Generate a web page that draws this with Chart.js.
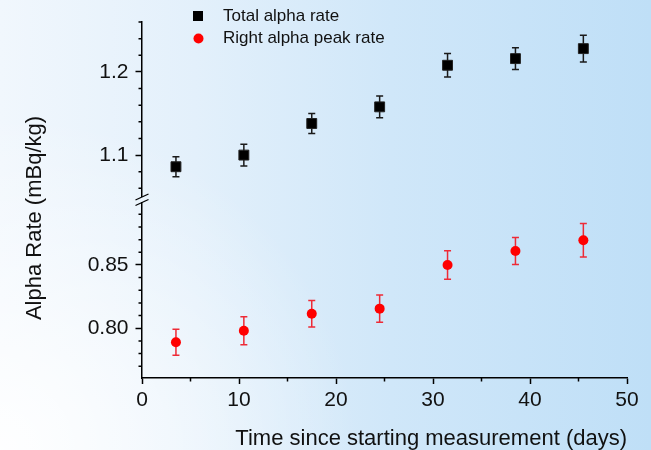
<!DOCTYPE html>
<html>
<head>
<meta charset="utf-8">
<script src="https://cdn.jsdelivr.net/npm/chart.js@4.4.1/dist/chart.umd.min.js"></script>
<style>
  html, body { margin: 0; padding: 0; }
  #wrap {
    position: relative;
    width: 651px;
    height: 450px;
    background:
      radial-gradient(ellipse 55% 75% at 0% 100%, rgba(255,255,255,0.95), rgba(255,255,255,0) 100%),
      linear-gradient(to right, #f1f7fd 0%, #e3f0fb 30%, #d0e7f9 60%, #bfdff7 100%);
  }
</style>
</head>
<body>
<div id="wrap"><canvas id="chart" width="651" height="450"></canvas></div>
<script>
const days = [3.5, 10.5, 17.5, 24.5, 31.5, 38.5, 45.5];
const totalRate = [1.086, 1.100, 1.138, 1.158, 1.208, 1.216, 1.228];
const totalErr = [0.012, 0.013, 0.012, 0.013, 0.014, 0.013, 0.016];
const peakRate = [0.789, 0.798, 0.8115, 0.8155, 0.850, 0.861, 0.8695];
const peakErr = [0.0103, 0.011, 0.0105, 0.0107, 0.0112, 0.0107, 0.0133];

const xTicks = [0, 5, 10, 15, 20, 25, 30, 35, 40, 45, 50];
const upperTicks = [1.06, 1.08, 1.10, 1.12, 1.14, 1.16, 1.18, 1.20, 1.22, 1.24, 1.26];
const lowerTicks = [0.77, 0.78, 0.79, 0.80, 0.81, 0.82, 0.83, 0.84, 0.85, 0.86, 0.87, 0.88, 0.89];

const FONT = "'Liberation Sans', Arial, Helvetica, sans-serif";
const INK = '#111';

const isMajorX = (v) => Math.round(v) % 10 === 0;
const isMajorTop = (v) => Math.round(v * 100) % 10 === 0;
const isMajorBottom = (v) => Math.round(v * 100) % 5 === 0;

function tickColor(test) {
  return (c) => (c.tick && test(c.tick.value) ? '#000' : 'rgba(0,0,0,0)');
}

// error bars, minor ticks, axis break, legend and y title
const decorations = {
  id: 'decorations',
  beforeDatasetsDraw(chart) {
    const ctx = chart.ctx;
    chart.data.datasets.forEach((ds, i) => {
      const meta = chart.getDatasetMeta(i);
      const ys = chart.scales[ds.yAxisID];
      ctx.save();
      ctx.strokeStyle = ds.errColor;
      ctx.lineWidth = 1.5;
      meta.data.forEach((pt, j) => {
        const v = ds.data[j].y;
        const e = ds.errors[j];
        const hi = ys.getPixelForValue(v + e);
        const lo = ys.getPixelForValue(v - e);
        ctx.beginPath();
        ctx.moveTo(pt.x, hi); ctx.lineTo(pt.x, lo);
        ctx.moveTo(pt.x - 3.5, hi); ctx.lineTo(pt.x + 3.5, hi);
        ctx.moveTo(pt.x - 3.5, lo); ctx.lineTo(pt.x + 3.5, lo);
        ctx.stroke();
      });
      ctx.restore();
    });
  },
  afterDraw(chart) {
    const ctx = chart.ctx;
    const { x, yTop, yBottom } = chart.scales;
    const axisX = yTop.right;
    ctx.save();
    ctx.strokeStyle = '#000';
    ctx.lineWidth = 1.5;
    ctx.beginPath();
    x.ticks.forEach((t) => {
      if (isMajorX(t.value)) return;
      const px = x.getPixelForValue(t.value);
      ctx.moveTo(px, x.top); ctx.lineTo(px, x.top + 3.5);
    });
    yTop.ticks.forEach((t) => {
      if (isMajorTop(t.value)) return;
      const py = yTop.getPixelForValue(t.value);
      ctx.moveTo(axisX, py); ctx.lineTo(axisX - 3.5, py);
    });
    yBottom.ticks.forEach((t) => {
      if (isMajorBottom(t.value)) return;
      const py = yBottom.getPixelForValue(t.value);
      ctx.moveTo(axisX, py); ctx.lineTo(axisX - 3.5, py);
    });
    ctx.stroke();

    // axis break
    const by = yTop.bottom;
    ctx.clearRect(axisX - 3, by - 2.5, 6, 5);
    ctx.beginPath();
    ctx.moveTo(axisX - 6.5, by + 0.5); ctx.lineTo(axisX + 6.5, by - 5.5);
    ctx.moveTo(axisX - 6.5, by + 6); ctx.lineTo(axisX + 6.5, by);
    ctx.lineWidth = 1.3;
    ctx.stroke();

    // legend
    const [ds0, ds1] = chart.data.datasets;
    ctx.fillStyle = ds0.backgroundColor;
    ctx.fillRect(193, 11, 10, 10);
    ctx.fillStyle = ds1.backgroundColor;
    ctx.beginPath();
    ctx.arc(198.5, 38.5, 5, 0, Math.PI * 2);
    ctx.fill();
    ctx.fillStyle = INK;
    ctx.font = `17px ${FONT}`;
    ctx.textBaseline = 'middle';
    ctx.textAlign = 'left';
    ctx.fillText(ds0.label, 223, 16.5);
    ctx.fillText(ds1.label, 223, 38.5);

    // y title
    ctx.translate(35, 218);
    ctx.rotate(-Math.PI / 2);
    ctx.textAlign = 'center';
    ctx.font = `22px ${FONT}`;
    ctx.fillText('Alpha Rate (mBq/kg)', 0, 0);
    ctx.restore();
  },
};

new Chart(document.getElementById('chart'), {
  type: 'scatter',
  data: {
    datasets: [
      {
        label: 'Total alpha rate',
        data: days.map((d, i) => ({ x: d, y: totalRate[i] })),
        errors: totalErr,
        errColor: '#1a1a1a',
        yAxisID: 'yTop',
        pointStyle: 'rect',
        pointRadius: 7,
        backgroundColor: '#000',
        borderColor: '#222',
        borderWidth: 1,
      },
      {
        label: 'Right alpha peak rate',
        data: days.map((d, i) => ({ x: d, y: peakRate[i] })),
        errors: peakErr,
        errColor: '#ee2a36',
        yAxisID: 'yBottom',
        pointStyle: 'circle',
        pointRadius: 5,
        backgroundColor: '#ff0000',
        borderColor: '#ff0000',
        borderWidth: 0,
      },
    ],
  },
  options: {
    responsive: false,
    animation: false,
    layout: { padding: { top: 22, right: 24, left: 0, bottom: 0 } },
    plugins: { legend: { display: false }, tooltip: { enabled: false } },
    scales: {
      x: {
        type: 'linear',
        min: 0,
        max: 50,
        afterBuildTicks: (a) => { a.ticks = xTicks.map((v) => ({ value: v })); },
        afterFit: (a) => { a.height = 72; },
        ticks: {
          callback: (v) => (isMajorX(v) ? String(v) : ''),
          autoSkip: false,
          maxRotation: 0,
          padding: 4,
          color: INK,
          font: { family: FONT, size: 21 },
        },
        grid: { drawOnChartArea: false, tickLength: 6, tickWidth: 1.5, tickColor: tickColor(isMajorX) },
        border: { color: '#000', width: 1.5 },
        title: {
          display: true,
          text: 'Time since starting measurement (days)',
          align: 'end',
          color: INK,
          font: { family: FONT, size: 22, lineHeight: 1 },
          padding: { top: 0, bottom: 0 },
        },
      },
      yTop: {
        type: 'linear',
        position: 'left',
        stack: 'y',
        stackWeight: 177.5,
        weight: 1,
        min: 1.0466,
        max: 1.26,
        afterBuildTicks: (a) => { a.ticks = upperTicks.map((v) => ({ value: v })); },
        afterFit: (a) => { a.width = 142; },
        ticks: {
          callback: (v) => (isMajorTop(v) ? v.toFixed(1) : ''),
          autoSkip: false,
          padding: 7,
          color: INK,
          font: { family: FONT, size: 21 },
        },
        grid: { drawOnChartArea: false, tickLength: 6.5, tickWidth: 1.5, tickColor: tickColor(isMajorTop) },
        border: { color: '#000', width: 1.5 },
      },
      yBottom: {
        type: 'linear',
        position: 'left',
        stack: 'y',
        stackWeight: 178.5,
        weight: 0,
        min: 0.7607,
        max: 0.9017,
        afterBuildTicks: (a) => { a.ticks = lowerTicks.map((v) => ({ value: v })); },
        afterFit: (a) => { a.width = 142; },
        ticks: {
          callback: (v) => (isMajorBottom(v) ? v.toFixed(2) : ''),
          autoSkip: false,
          padding: 7,
          color: INK,
          font: { family: FONT, size: 21 },
        },
        grid: { drawOnChartArea: false, tickLength: 6.5, tickWidth: 1.5, tickColor: tickColor(isMajorBottom) },
        border: { color: '#000', width: 1.5 },
      },
    },
  },
  plugins: [decorations],
});
</script>
</body>
</html>
